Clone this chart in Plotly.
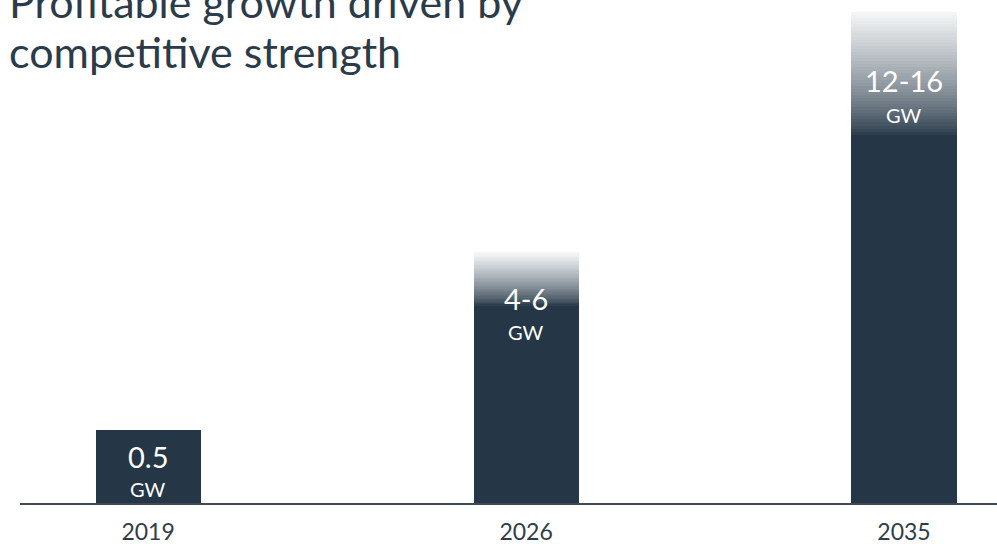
import plotly.graph_objects as go

# ---- data ----
years = ["2019", "2026", "2035"]
value_labels = ["0.5", "4-6", "12-16"]
unit_labels = ["GW", "GW", "GW"]
solid_height = [1.49, 4.03, 7.5]      # illustrative bar height (solid part)
fade_height = [0.0, 1.07, 2.5]        # illustrative faded top (range upper part)
title_lines = ["Profitable growth driven by", "competitive strength"]

# ---- style ----
NAVY = (37, 55, 70)
TOP = (246, 247, 248)
title_color = "#2a3b4b"
N_STEPS = 40
BAR_W = 0.278
xpos = list(range(len(years)))

fig = go.Figure()

# solid part
fig.add_trace(go.Bar(
    x=xpos, y=solid_height, width=BAR_W,
    marker=dict(color="rgb(%d,%d,%d)" % NAVY, line=dict(width=0)),
    hoverinfo="skip", showlegend=False,
))

# gradient (faded) top, built as a stack of thin slices
for i in range(N_STEPS):
    t = (i + 0.5) / N_STEPS
    t = t ** 0.75
    c = tuple(int(round(NAVY[k] + (TOP[k] - NAVY[k]) * t)) for k in range(3))
    seg = [h / N_STEPS for h in fade_height]
    base = [s + h * i / N_STEPS for s, h in zip(solid_height, fade_height)]
    fig.add_trace(go.Bar(
        x=xpos, y=seg, base=base, width=BAR_W,
        marker=dict(color="rgb(%d,%d,%d)" % c, line=dict(width=0)),
        hoverinfo="skip", showlegend=False,
    ))

# labels inside bars (value + unit), placed from the bar tops
value_offset = [0.54, 0.93, 1.39]
unit_offset = [1.21, 1.62, 2.10]
tops = [s + f for s, f in zip(solid_height, fade_height)]
for x, top, v, u, vo, uo in zip(xpos, tops, value_labels, unit_labels, value_offset, unit_offset):
    fig.add_annotation(x=x, y=top - vo, text=v, showarrow=False,
                       font=dict(family="Lato", size=29, color="white"),
                       xanchor="center", yanchor="middle")
    fig.add_annotation(x=x, y=top - uo, text=u, showarrow=False,
                       font=dict(family="Lato", size=20, color="white"),
                       xanchor="center", yanchor="middle")

# title (two lines, top one partly cut by the page edge)
for line, shift in zip(title_lines, [-1, -51]):
    fig.add_annotation(
        xref="paper", yref="paper", x=-0.013, y=1.0, yshift=shift,
        text=line, showarrow=False, xanchor="left", yanchor="middle", align="left",
        font=dict(family="Lato", size=43, color=title_color),
    )

fig.update_layout(
    width=997, height=544,
    margin=dict(l=20, r=0, t=0, b=41, autoexpand=False),
    paper_bgcolor="white", plot_bgcolor="white",
    barmode="overlay", bargap=0,
    xaxis=dict(
        range=[-0.339, 2.246], automargin=False,
        tickmode="array", tickvals=xpos, ticktext=years,
        showgrid=False, zeroline=False,
        showline=True, linecolor="#3d4a56", linewidth=1.5,
        ticks="", tickfont=dict(family="Lato", size=23, color="#2e3d4b"),
        ticklabelstandoff=8,
    ),
    yaxis=dict(range=[0, 10.244], visible=False, showgrid=False, zeroline=False,
               automargin=False),
)

fig.write_html("out.html")
